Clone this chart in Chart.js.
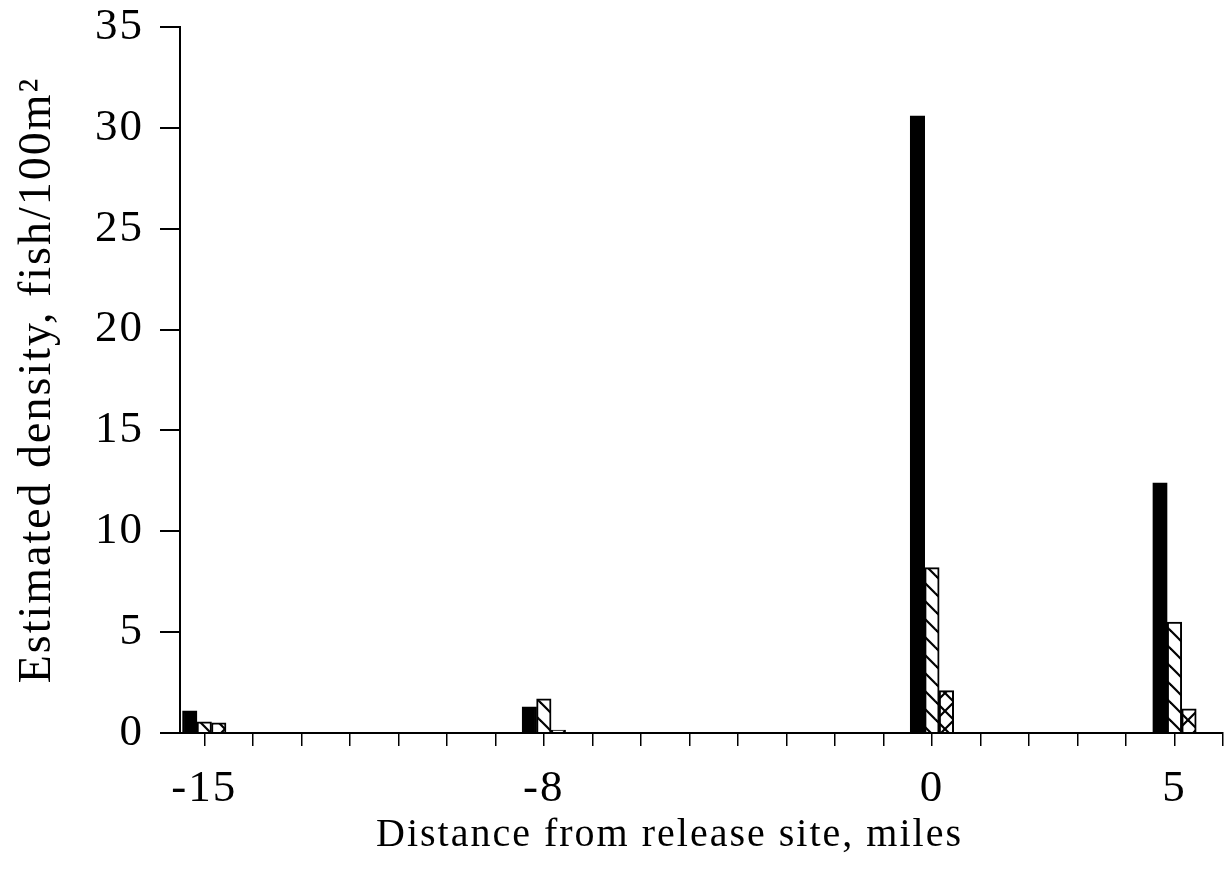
<!DOCTYPE html>
<html>
<head>
<meta charset="utf-8">
<script src="https://cdn.jsdelivr.net/npm/chart.js@4/dist/chart.umd.min.js"></script>
<style>
  html, body { margin: 0; padding: 0; background: #ffffff; }
  #chart { display: block; }
</style>
</head>
<body>
<canvas id="chart" width="1229" height="876"></canvas>
<script>
// Sampling stations, miles from the release site
const distances = [-15, -8, 0, 5];

// Estimated density (fish per 100 m²) for the three groups at each station
const solidSeries = [1.1, 1.3, 30.6, 12.4];
const hatchedSeries = [0.55, 1.7, 8.2, 5.5];
const crossSeries = [0.5, 0.15, 2.1, 1.2];

// Axis ticks
const yTickValues = [0, 5, 10, 15, 20, 25, 30, 35];
const xTickValues = [-15, -14, -13, -12, -11, -10, -9, -8, -7, -6, -5, -4, -3, -2, -1, 0, 1, 2, 3, 4, 5, 6];
const xLabeledValues = [-15, -8, 0, 5];

const FONT = '"Liberation Serif", "Times New Roman", serif';
const INK = '#000000';

// Hatch fills built on small tiles
function makeHatch(withBackslash, withSlash) {
  const s = 18;
  const tile = document.createElement('canvas');
  tile.width = s;
  tile.height = s;
  const c = tile.getContext('2d');
  c.fillStyle = '#ffffff';
  c.fillRect(0, 0, s, s);
  c.strokeStyle = INK;
  c.lineWidth = 2.2;
  c.lineCap = 'square';
  for (let k = -1; k <= 1; k++) {
    if (withBackslash) {
      c.beginPath();
      c.moveTo(-2, -2 + k * s);
      c.lineTo(s + 2, s + 2 + k * s);
      c.stroke();
    }
    if (withSlash) {
      c.beginPath();
      c.moveTo(-2, s + 2 + k * s);
      c.lineTo(s + 2, -2 + k * s);
      c.stroke();
    }
  }
  return c.createPattern(tile, 'repeat');
}

const canvas = document.getElementById('chart');
const ctx = canvas.getContext('2d');
const diagonalFill = makeHatch(true, false);
const crossFill = makeHatch(true, true);

function points(values) {
  return distances.map((d, i) => ({ x: d, y: values[i] }));
}

const barCommon = {
  barThickness: 14.5,
  borderColor: INK,
  borderWidth: 2,
  borderSkipped: 'start'
};

// Slightly open letter spacing for all chart text
const letterSpacingPlugin = {
  id: 'letterSpacing',
  beforeDraw(chart) { chart.ctx.letterSpacing = '2px'; },
  afterDraw(chart) { chart.ctx.letterSpacing = '0px'; }
};

// Keep the plot frame fixed: no extra room reserved for end labels
function trimPadding(scale) {
  scale.paddingTop = 0;
  scale.paddingBottom = 0;
  scale.paddingLeft = 0;
  scale.paddingRight = 0;
}

new Chart(ctx, {
  type: 'bar',
  data: {
    datasets: [
      Object.assign({ label: 'Group 1', data: points(solidSeries), backgroundColor: INK }, barCommon),
      Object.assign({ label: 'Group 2', data: points(hatchedSeries), backgroundColor: diagonalFill }, barCommon),
      Object.assign({ label: 'Group 3', data: points(crossSeries), backgroundColor: crossFill }, barCommon)
    ]
  },
  plugins: [letterSpacingPlugin],
  options: {
    responsive: false,
    animation: false,
    devicePixelRatio: 1,
    layout: { padding: { left: 0, right: 6, top: 27, bottom: 0 } },
    plugins: {
      legend: { display: false },
      tooltip: { enabled: false }
    },
    scales: {
      x: {
        type: 'linear',
        offset: false,
        min: -15.5,
        max: 6,
        afterBuildTicks: (scale) => {
          scale.ticks = xTickValues.map(v => ({ value: v }));
        },
        afterFit: (scale) => { scale.height = 876 - 733; trimPadding(scale); },
        border: { display: true, color: INK, width: 2 },
        grid: {
          offset: false,
          drawOnChartArea: false,
          drawTicks: true,
          tickLength: 13,
          color: INK,
          lineWidth: 1.5
        },
        ticks: {
          autoSkip: false,
          maxRotation: 0,
          minRotation: 0,
          padding: 16,
          color: INK,
          font: { family: FONT, size: 45 },
          callback: (value) => xLabeledValues.includes(value) ? String(value) : ''
        },
        title: {
          display: true,
          text: 'Distance from release site, miles\u2003\u2002',
          color: INK,
          font: { family: FONT, size: 40 },
          padding: { top: 0, bottom: 17 }
        }
      },
      y: {
        type: 'linear',
        min: 0,
        max: 35,
        afterBuildTicks: (scale) => {
          scale.ticks = yTickValues.map(v => ({ value: v }));
        },
        afterFit: (scale) => { scale.width = 180; trimPadding(scale); },
        border: { display: true, color: INK, width: 2 },
        grid: {
          drawOnChartArea: false,
          drawTicks: true,
          tickLength: 20,
          color: INK,
          lineWidth: 2
        },
        ticks: {
          padding: 16,
          color: INK,
          font: { family: FONT, size: 45 }
        },
        title: {
          display: true,
          text: 'Estimated density, fish/100m²',
          color: INK,
          font: { family: FONT, size: 46 },
          padding: { top: 10, bottom: 0 }
        }
      }
    }
  }
});
</script>
</body>
</html>
